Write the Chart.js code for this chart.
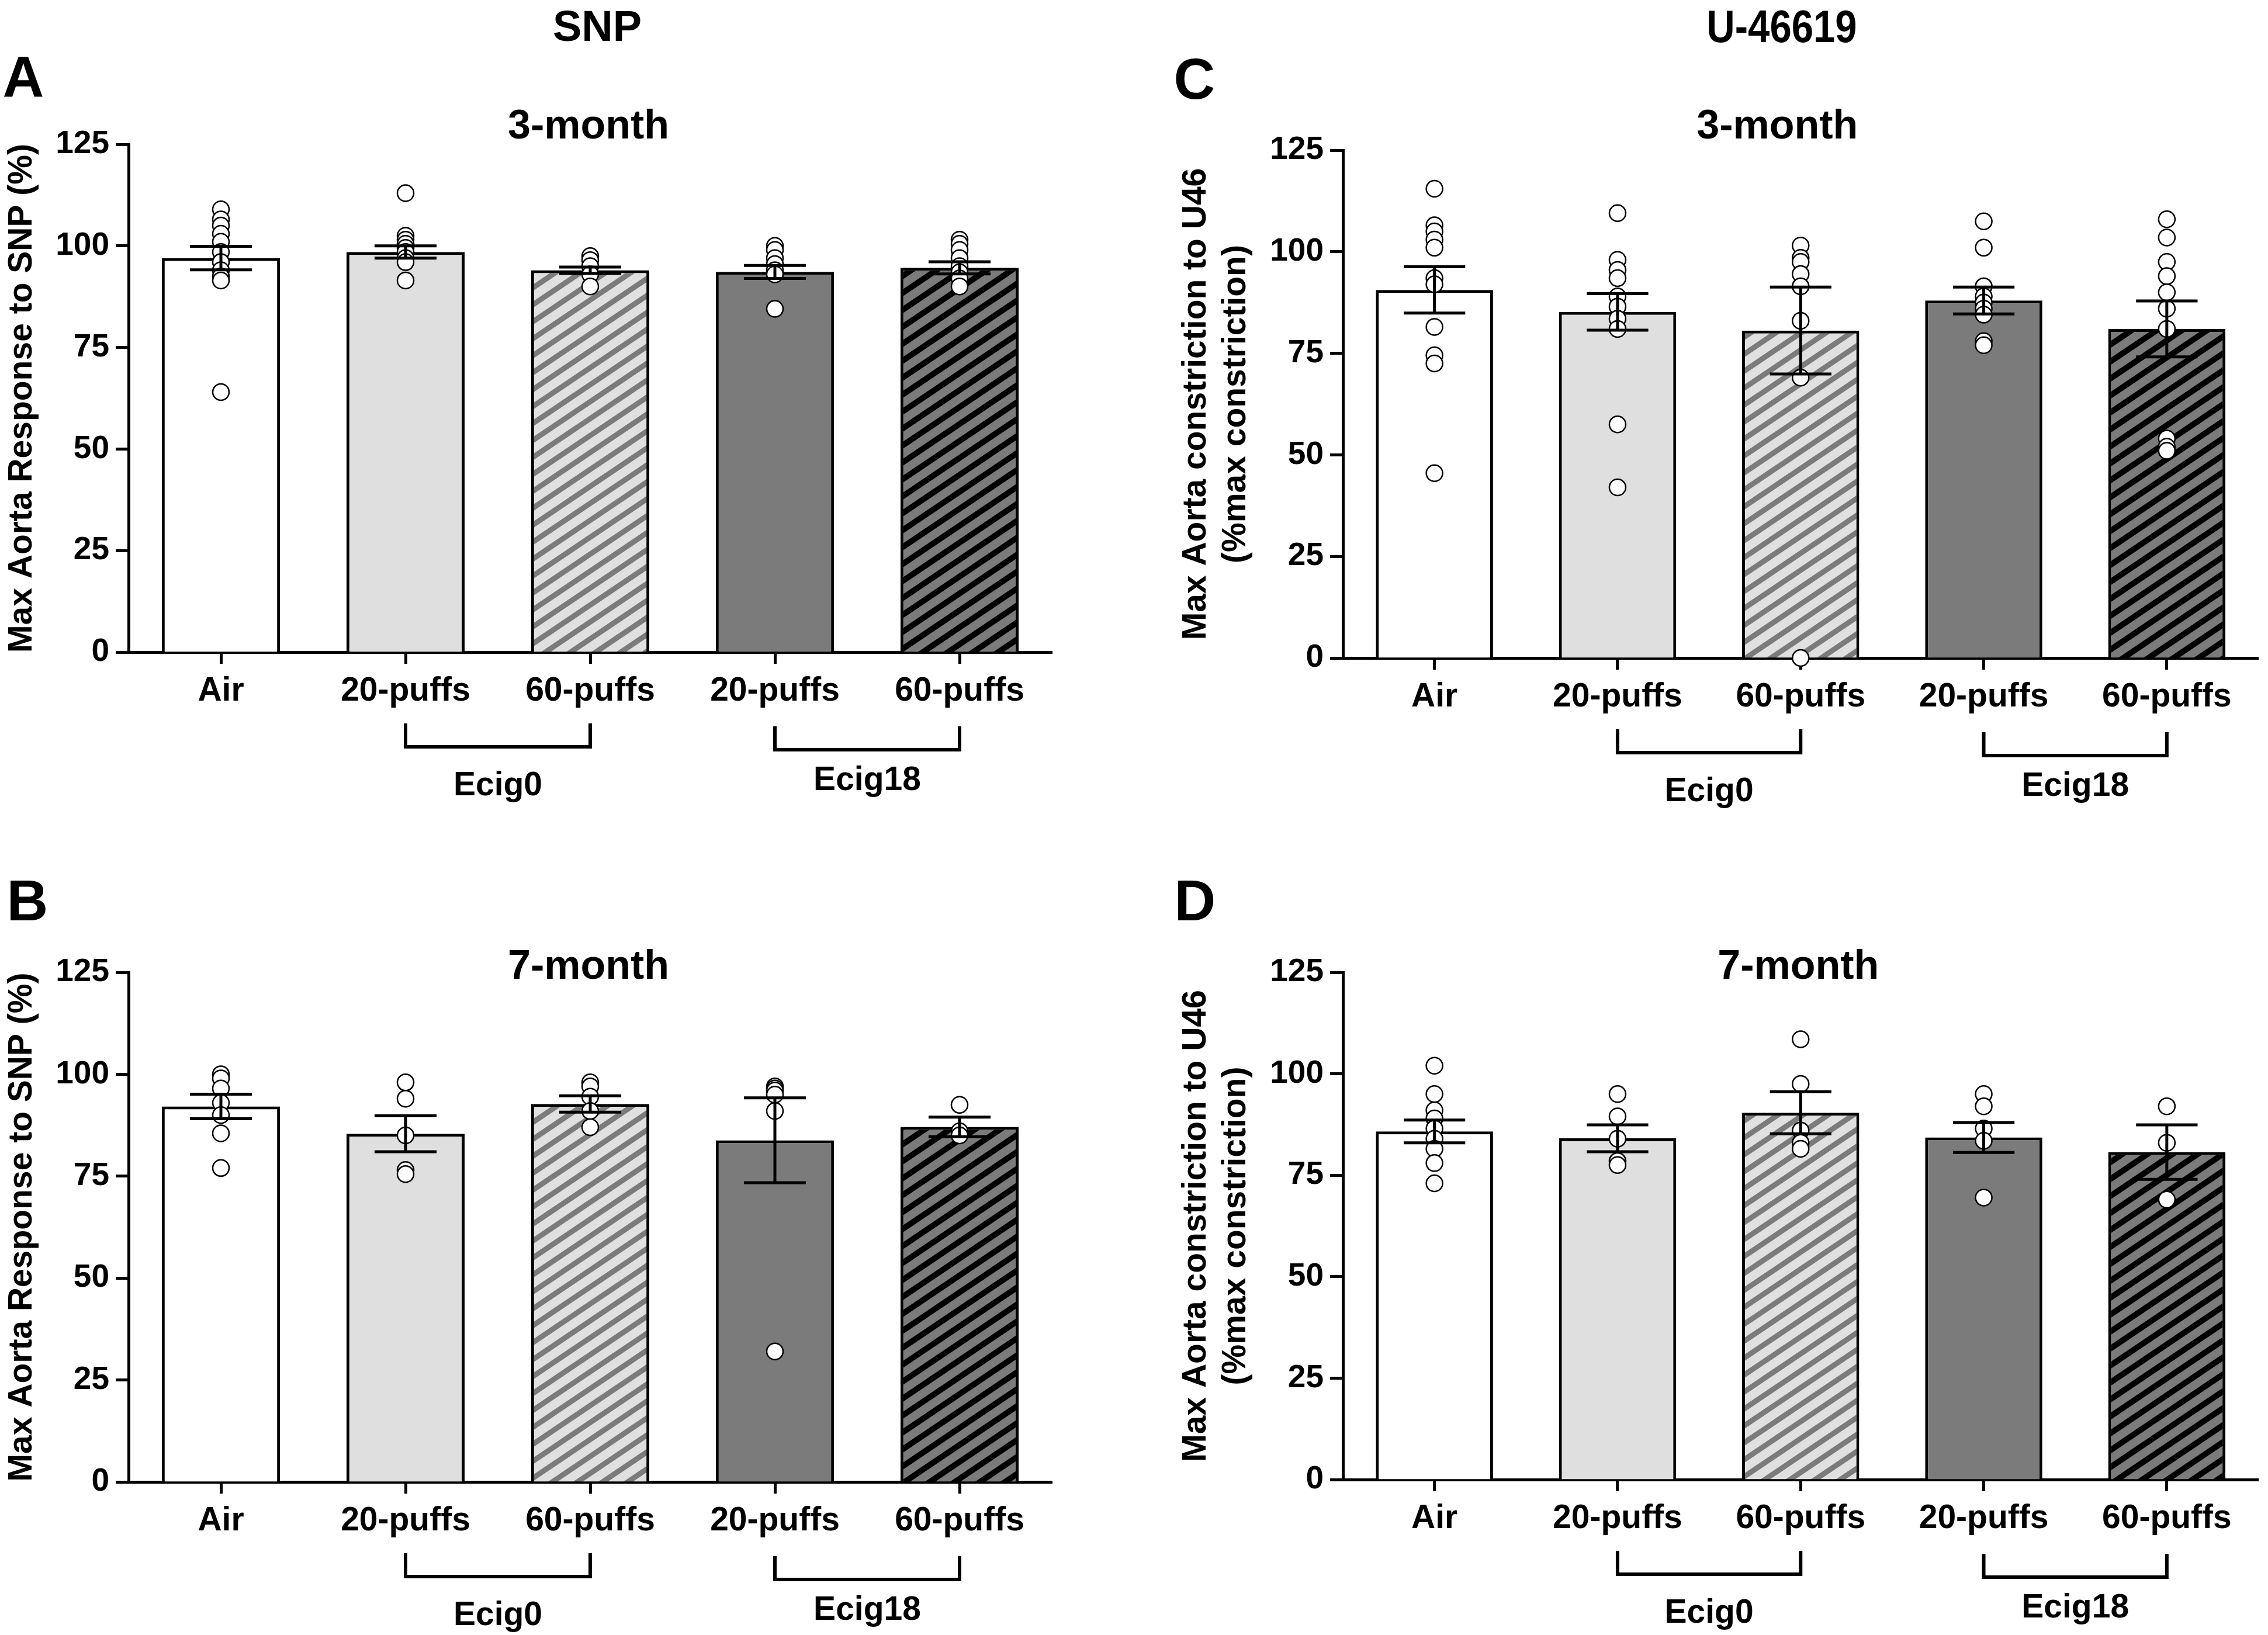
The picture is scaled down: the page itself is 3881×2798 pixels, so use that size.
<!DOCTYPE html>
<html>
<head>
<meta charset="utf-8">
<script src="https://cdn.jsdelivr.net/npm/chart.js@4.4.1/dist/chart.umd.min.js"></script>
<style>
  html, body { margin: 0; padding: 0; background: #fff; }
  #page { position: relative; width: 3881px; height: 2798px; overflow: hidden;
          font-family: 'Liberation Sans', Arial, sans-serif; font-weight: bold; color: #000; }
  #page canvas { position: absolute; }
  .lbl { position: absolute; white-space: nowrap; line-height: 1; transform: translate(-50%, -50%); }
</style>
</head>
<body>
<div id="page">
  <div class="lbl" style="left:1022px;top:45px;font-size:74px">SNP</div>
  <div class="lbl" style="left:3049px;top:45px;font-size:78px;transform:translate(-50%,-50%) scaleX(0.86)">U-46619</div>
  <div class="lbl" style="left:40px;top:131px;font-size:98px">A</div>
  <div class="lbl" style="left:47px;top:1541px;font-size:98px">B</div>
  <div class="lbl" style="left:2044px;top:135px;font-size:98px">C</div>
  <div class="lbl" style="left:2045px;top:1541px;font-size:98px">D</div>

  <canvas id="chartA" width="1940" height="1399" style="left:0;top:0"></canvas>
  <canvas id="chartB" width="1940" height="1399" style="left:0;top:1399px"></canvas>
  <canvas id="chartC" width="1941" height="1399" style="left:1940px;top:0"></canvas>
  <canvas id="chartD" width="1941" height="1399" style="left:1940px;top:1399px"></canvas>
</div>

<script>
// ============ データ ============
const groupLabels = ['Air', '20-puffs', '60-puffs', '20-puffs', '60-puffs'];
const bracketGroups = [
  { label: 'Ecig0', from: 1, to: 2 },
  { label: 'Ecig18', from: 3, to: 4 },
];
const yMax = 125;
const yStep = 25;

// A: SNP, 3-month
const snp3Mean = [97.0, 98.5, 94.0, 93.6, 94.6];
const snp3Sem = [2.9, 1.5, 0.8, 1.6, 1.5];
const snp3Points = [
  [109, 106.5, 105, 103, 101, 98.5, 96, 94, 92.5, 91.5, 64],
  [113, 102.5, 101.5, 100.5, 99.5, 98.5, 97, 96, 91.5],
  [97.5, 96.5, 95, 93, 90],
  [100, 99, 97, 95.5, 94, 93, 84.5],
  [101.5, 100.5, 99, 97, 95, 93.5, 92, 90],
];

// B: SNP, 7-month
const snp7Mean = [92.1, 85.4, 92.7, 83.8, 87.1];
const snp7Sem = [3.0, 4.4, 2.0, 10.4, 2.4];
const snp7Points = [
  [100, 99, 96.5, 93, 90, 85.5, 77],
  [98, 94, 85, 76.5, 75.5],
  [98, 97, 94.5, 91, 87],
  [97, 96.5, 96, 95, 91, 32],
  [92.5, 86, 85],
];

// C: U-46619, 3-month
const u3Mean = [90.6, 85.2, 80.6, 88.0, 81.0];
const u3Sem = [5.7, 4.5, 10.7, 3.3, 6.9];
const u3Points = [
  [115.5, 106.5, 105, 103, 101, 93.5, 92, 81.5, 74.5, 72.5, 45.5],
  [109.5, 98, 95.5, 93.5, 89, 86.5, 83.5, 81, 57.5, 42],
  [101.5, 98.5, 97.5, 94.5, 91.5, 83, 69, 0],
  [107.5, 101, 91.5, 89, 87.5, 86, 84.5, 78, 77],
  [108, 103.5, 97.5, 94, 90, 86, 81, 54, 52, 51],
];

// D: U-46619, 7-month
const u7Mean = [85.8, 84.1, 90.4, 84.3, 80.7];
const u7Sem = [2.8, 3.3, 5.2, 3.7, 6.7];
const u7Points = [
  [102, 95, 91, 89, 86.5, 84, 81.5, 78, 73],
  [95, 89.5, 84, 78.5, 77.5],
  [108.5, 97.5, 86, 83, 81.5],
  [95, 92, 86.5, 83.5, 69.5],
  [92, 83, 69],
];

// ============ スタイル ============
Chart.defaults.font.family = "'Liberation Sans', Arial, sans-serif";
Chart.defaults.font.weight = 'bold';
Chart.defaults.color = '#000';

const X_AXIS_H = 120;

// 斜線パターン
function hatch(bg, fg, thick) {
  const w = 43, h = 29;
  const c = document.createElement('canvas');
  c.width = w; c.height = h;
  const g = c.getContext('2d');
  g.fillStyle = bg;
  g.fillRect(0, 0, w, h);
  g.fillStyle = fg;
  for (const off of [-h, 0, h, 2 * h]) {
    g.beginPath();
    g.moveTo(0, off);
    g.lineTo(w, off - h);
    g.lineTo(w, off - h + thick);
    g.lineTo(0, off + thick);
    g.closePath();
    g.fill();
  }
  return g.createPattern(c, 'repeat');
}

const barFills = [
  '#ffffff',
  '#dfdfdf',
  hatch('#e0e0e0', '#7b7b7b', 11),
  '#7b7b7b',
  hatch('#7b7b7b', '#000000', 12),
];

// エラーバー・括弧・サブタイトル
const decorPlugin = {
  id: 'decor',
  afterDatasetsDraw(chart, args, opts) {
    const { ctx, scales: { x, y } } = chart;
    const means = chart.data.datasets[0].data;
    const capHalf = (x.getPixelForValue(1) - x.getPixelForValue(0)) * 0.168;
    ctx.save();
    ctx.strokeStyle = '#000';
    ctx.lineWidth = 5;
    means.forEach((m, i) => {
      const px = x.getPixelForValue(i);
      const hi = y.getPixelForValue(m + opts.sems[i]);
      const lo = y.getPixelForValue(m - opts.sems[i]);
      ctx.beginPath();
      ctx.moveTo(px, hi); ctx.lineTo(px, lo);
      ctx.moveTo(px - capHalf, hi); ctx.lineTo(px + capHalf, hi);
      ctx.moveTo(px - capHalf, lo); ctx.lineTo(px + capHalf, lo);
      ctx.stroke();
    });
    ctx.restore();
  },
  afterDraw(chart, args, opts) {
    const { ctx, chartArea, scales: { x } } = chart;
    const base = chartArea.bottom;
    ctx.save();
    ctx.fillStyle = '#000';
    ctx.strokeStyle = '#000';
    ctx.lineWidth = 6;
    ctx.textAlign = 'center';
    bracketGroups.forEach((g, k) => {
      const x1 = x.getPixelForValue(g.from);
      const x2 = x.getPixelForValue(g.to);
      const top = base + (k === 0 ? 122 : 127);
      const bar = base + (k === 0 ? 162 : 167);
      ctx.beginPath();
      ctx.moveTo(x1, top); ctx.lineTo(x1, bar); ctx.lineTo(x2, bar); ctx.lineTo(x2, top);
      ctx.stroke();
      ctx.font = "bold 57px 'Liberation Sans', Arial, sans-serif";
      ctx.textBaseline = 'alphabetic';
      ctx.fillText(g.label, (x1 + x2) / 2, base + (k === 0 ? 245 : 236));
    });
    ctx.font = "bold 70px 'Liberation Sans', Arial, sans-serif";
    ctx.textBaseline = 'middle';
    ctx.fillText(opts.subtitle, (chartArea.left + chartArea.right) / 2 + opts.subDx, opts.subY);
    ctx.restore();
  }
};

// ============ パネル ============
function buildPanel(id, box, means, sems, points, sub, yTitle, titlePad) {
  const canvas = document.getElementById(id);
  const pad = {
    left: 0,
    top: box.top,
    right: canvas.width - box.right,
    bottom: canvas.height - box.bottom - X_AXIS_H,
  };
  const chart = new Chart(canvas, {
    type: 'bar',
    data: {
      labels: groupLabels,
      datasets: [
        {
          type: 'bar',
          data: means,
          backgroundColor: barFills,
          borderColor: '#000',
          borderWidth: 5,
          borderSkipped: 'start',
          grouped: false,
          barPercentage: 0.64,
          categoryPercentage: 1,
          order: 2,
        },
        {
          type: 'scatter',
          xAxisID: 'xPts',
          data: points.flatMap((vals, i) => vals.map(v => ({ x: i, y: v }))),
          pointRadius: 14,
          pointBackgroundColor: '#fff',
          pointBorderColor: '#000',
          pointBorderWidth: 2.5,
          clip: false,
          order: 1,
        },
      ],
    },
    options: {
      responsive: false,
      animation: false,
      layout: { padding: pad },
      plugins: {
        legend: { display: false },
        tooltip: { enabled: false },
        decor: { sems, subtitle: sub.text, subDx: sub.dx, subY: sub.y },
      },
      scales: {
        x: {
          type: 'category',
          offset: true,
          z: 1,
          grid: { offset: false, drawOnChartArea: false, tickLength: 20, tickWidth: 5, tickColor: '#000' },
          border: { display: true, width: 5, color: '#000' },
          ticks: { color: '#000', font: { size: 57, weight: 'bold' }, padding: 13, maxRotation: 0, autoSkip: false },
          afterFit: s => { s.height = X_AXIS_H; },
        },
        xPts: { type: 'linear', axis: 'x', offset: false, min: -0.5, max: 4.5, display: false },
        y: {
          min: 0,
          max: yMax,
          z: 1,
          grid: { drawOnChartArea: false, tickLength: 22, tickWidth: 5, tickColor: '#000' },
          border: { display: true, width: 5, color: '#000' },
          ticks: { stepSize: yStep, color: '#000', font: { size: 55, weight: 'bold' }, padding: 11 },
          title: {
            display: true,
            text: yTitle,
            color: '#000',
            font: { size: 57, weight: 'bold', lineHeight: 1.2 },
            padding: { top: titlePad, bottom: 0 },
          },
          afterFit: s => { s.width = box.left; },
        },
      },
    },
    plugins: [decorPlugin],
  });

  // チャート領域を目標位置に合わせる
  for (let k = 0; k < 3; k++) {
    const a = chart.chartArea;
    pad.top += box.top - a.top;
    pad.bottom += a.bottom - box.bottom;
    pad.right += a.right - box.right;
    chart.config.options.layout.padding = Object.assign({}, pad);
    chart.update('none');
  }
  return chart;
}

const snpTitle = 'Max Aorta Response to SNP (%)';
const u46Title = ['Max Aorta constriction to U46', '(%max constriction)'];

buildPanel('chartA', { left: 220, right: 1800, top: 247, bottom: 1116 },
  snp3Mean, snp3Sem, snp3Points, { text: '3-month', dx: -3, y: 218 }, snpTitle, 4);
buildPanel('chartB', { left: 220, right: 1800, top: 265, bottom: 1137 },
  snp7Mean, snp7Sem, snp7Points, { text: '7-month', dx: -3, y: 257 }, snpTitle, 4);
buildPanel('chartC', { left: 358, right: 1938, top: 257, bottom: 1126 },
  u3Mean, u3Sem, u3Points, { text: '3-month', dx: -40, y: 218 }, u46Title, 73);
buildPanel('chartD', { left: 358, right: 1938, top: 265, bottom: 1133 },
  u7Mean, u7Sem, u7Points, { text: '7-month', dx: -4, y: 257 }, u46Title, 73);
</script>
</body>
</html>
